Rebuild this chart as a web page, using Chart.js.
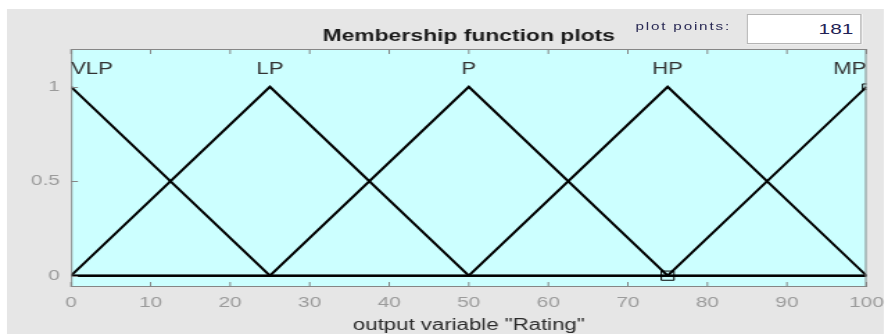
<!DOCTYPE html>
<html lang="en">
<head>
    <meta charset="UTF-8">
    <title>Membership function plots</title>
    <script src="https://cdn.jsdelivr.net/npm/chart.js"></script>
    <style>
        body {
            margin: 0;
            background: #fff;
            overflow: hidden;
            font-family: "Liberation Sans", Arial, sans-serif;
        }
        /* the original window is drawn wide, so the whole stage is stretched sideways */
        .stage {
            position: absolute;
            left: 0;
            top: 0;
            width: 640px;
            height: 334px;
            transform: scaleX(1.3875);
            transform-origin: 0 0;
        }
        .panel {
            position: absolute;
            left: 5px;
            top: 9px;
            width: 632px;
            height: 325px;
            background: #e6e6e6;
        }
        #mfChart {
            position: absolute;
            left: 0;
            top: 0;
        }
        .pts-label {
            position: absolute;
            left: 458px;
            top: 20px;
            font-size: 11px;
            letter-spacing: 1.3px;
            color: #2a2a55;
        }
        .pts-box {
            position: absolute;
            left: 538px;
            top: 14px;
            width: 83px;
            height: 30px;
            box-sizing: border-box;
            background: #fff;
            border: 1px solid #b4b4b4;
            font-size: 15px;
            line-height: 28px;
            text-align: right;
            padding-right: 5px;
            color: #222255;
        }
    </style>
</head>
<body>
    <div class="stage">
        <div class="panel"></div>
        <canvas id="mfChart" width="640" height="334"></canvas>
        <div class="pts-label">plot points:</div>
        <div class="pts-box" id="ptsBox"></div>
    </div>

    <script>
        // membership functions of output variable "Rating"
        const mfNames = ['VLP', 'LP', 'P', 'HP', 'MP'];
        const peakX = [0, 25, 50, 75, 100];

        const vlpX = [0, 25, 100];
        const vlpY = [1, 0, 0];
        const lpX = [0, 25, 50, 100];
        const lpY = [0, 1, 0, 0];
        const pX = [0, 25, 50, 75, 100];
        const pY = [0, 0, 1, 0, 0];
        const hpX = [0, 50, 75, 100];
        const hpY = [0, 0, 1, 0];
        const mpX = [0, 75, 100];
        const mpY = [0, 0, 1];

        // little square handles shown on the plot
        const markerX = [75, 100];
        const markerY = [0, 1];

        const xTicks = [0, 10, 20, 30, 40, 50, 60, 70, 80, 90, 100];
        const yTicks = [0, 0.5, 1];
        const plotPoints = 181;

        const FONT = '"Liberation Sans", Arial, sans-serif';

        document.getElementById('ptsBox').textContent = plotPoints;

        function pts(xs, ys) {
            return xs.map((v, i) => ({ x: v, y: ys[i] }));
        }

        const mfLines = [[vlpX, vlpY], [lpX, lpY], [pX, pY], [hpX, hpY], [mpX, mpY]];

        const datasets = mfLines.map((d, i) => ({
            label: mfNames[i],
            data: pts(d[0], d[1]),
            showLine: true,
            borderColor: '#000',
            borderWidth: 2,
            pointRadius: 0,
            tension: 0,
            borderJoinStyle: 'miter'
        }));

        datasets.push({
            label: 'handles',
            data: pts(markerX, markerY),
            pointStyle: 'rect',
            pointRadius: [6.5, 4],
            pointBorderWidth: 1,
            pointBorderColor: '#000',
            pointBackgroundColor: 'rgba(0,0,0,0)',
            showLine: false
        });

        // cyan plot box, gray frame with inward ticks, title and MF names
        const framePlugin = {
            id: 'frame',
            beforeDatasetsDraw(chart) {
                const { ctx, chartArea: a } = chart;
                ctx.save();
                ctx.fillStyle = '#ccffff';
                ctx.fillRect(a.left, a.top, a.right - a.left, a.bottom - a.top);
                ctx.restore();
            },
            afterDatasetsDraw(chart) {
                const { ctx, chartArea: a, scales: { x, y } } = chart;
                ctx.save();
                ctx.strokeStyle = '#868686';
                ctx.lineWidth = 1;
                ctx.strokeRect(a.left + 0.5, a.top + 0.5, a.right - a.left - 1, a.bottom - a.top - 1);

                ctx.beginPath();
                xTicks.forEach(v => {
                    const px = x.getPixelForValue(v);
                    ctx.moveTo(px, a.top);
                    ctx.lineTo(px, a.top + 5);
                    ctx.moveTo(px, a.bottom);
                    ctx.lineTo(px, a.bottom - 5);
                });
                yTicks.forEach(v => {
                    const py = Math.round(y.getPixelForValue(v)) + 0.5;
                    ctx.moveTo(a.left, py);
                    ctx.lineTo(a.left + 5, py);
                });
                ctx.stroke();

                // title
                ctx.fillStyle = '#1a1a1a';
                ctx.font = 'bold 16.5px ' + FONT;
                ctx.textAlign = 'center';
                ctx.textBaseline = 'alphabetic';
                ctx.fillText('Membership function plots', (a.left + a.right) / 2, 41);

                // names of the membership functions
                ctx.fillStyle = '#333';
                ctx.font = '16px ' + FONT;
                const ly = y.getPixelForValue(1.07);
                mfNames.forEach((name, i) => {
                    if (i === 0) ctx.textAlign = 'left';
                    else if (i === mfNames.length - 1) ctx.textAlign = 'right';
                    else ctx.textAlign = 'center';
                    ctx.fillText(name, x.getPixelForValue(peakX[i]), ly);
                });
                ctx.restore();
            }
        };

        // fixed box sizes so the plot area lands where the original one is
        function fixX(s) {
            s.height = 47;
            s.paddingLeft = 0;
            s.paddingRight = 0;
        }
        function fixY(s) {
            s.width = 51.2;
            s.paddingTop = 0;
            s.paddingBottom = 0;
        }

        const ctx = document.getElementById('mfChart').getContext('2d');
        new Chart(ctx, {
            type: 'scatter',
            data: { datasets: datasets },
            options: {
                responsive: false,
                animation: false,
                layout: { padding: { left: 0, right: 15.5, top: 49, bottom: 0 } },
                plugins: {
                    legend: { display: false },
                    tooltip: { enabled: false }
                },
                scales: {
                    x: {
                        type: 'linear',
                        min: 0,
                        max: 100,
                        afterBuildTicks: s => { s.ticks = xTicks.map(v => ({ value: v })); },
                        afterFit: fixX,
                        grid: { display: false, drawTicks: false },
                        border: { display: false },
                        ticks: {
                            autoSkip: false,
                            maxRotation: 0,
                            padding: 7,
                            color: '#9b9b9b',
                            font: { family: FONT, size: 15 }
                        },
                        title: {
                            display: true,
                            text: 'output variable "Rating"',
                            color: '#2b2b2b',
                            padding: { top: 0, bottom: 0 },
                            font: { family: FONT, size: 16, lineHeight: 1.1 }
                        }
                    },
                    y: {
                        min: -0.06,
                        max: 1.2,
                        afterBuildTicks: s => { s.ticks = yTicks.map(v => ({ value: v })); },
                        afterFit: fixY,
                        grid: { display: false, drawTicks: false },
                        border: { display: false },
                        ticks: {
                            padding: 8,
                            color: '#9b9b9b',
                            font: { family: FONT, size: 15 },
                            callback: v => String(v)
                        }
                    }
                }
            },
            plugins: [framePlugin]
        });
    </script>
</body>
</html>
